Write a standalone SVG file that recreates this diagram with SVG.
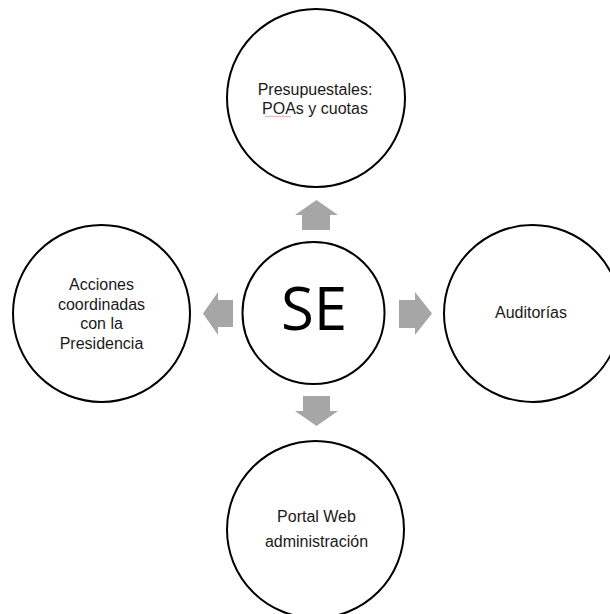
<svg xmlns="http://www.w3.org/2000/svg" width="610" height="614" viewBox="0 0 610 614">
<style>
.c{fill:#fff;stroke:#000;stroke-width:2}
.t{font-family:"Liberation Sans",Arial,sans-serif;font-size:16px;fill:#1a1a1a;text-anchor:middle}
.se{font-family:"Open Sans","Noto Sans","Liberation Sans",sans-serif;font-size:60px;fill:#000;text-anchor:middle}
.a{fill:#a6a6a6}
</style>
<rect width="610" height="614" fill="#fff"/>
<g id="connectors">
<polygon class="a" points="316.5,200 338,215 330,215 330,230 302,230 302,215 295,215"/>
<polygon class="a" points="432,313.5 415,335 415,328 399,328 399,300 415,300 415,292"/>
<polygon class="a" points="316.5,426 295,411 303,411 303,396 330,396 330,411 338,411"/>
<polygon class="a" points="203,313.5 218,292 218,300 233,300 233,327 218,327 218,335"/>
</g>
<g id="node-se">
<circle class="c" cx="313.5" cy="313" r="71" stroke-width="1.8"/>
<text class="se" x="314" y="330">SE</text>
</g>
<g id="node-presupuestales">
<circle class="c" cx="316" cy="98" r="89"/>
<text class="t" x="315" y="95">Presupuestales:</text>
<text class="t" x="315" y="113.5">POAs y cuotas</text>
<polyline points="265,117 267,116 269,117 271,116 273,117 275,116 277,117 279,116 281,117 283,116 285,117 287,116 289,117 291,116" fill="none" stroke="#e88" stroke-width="0.8"/>
</g>
<g id="node-auditorias">
<circle class="c" cx="532.5" cy="313.5" r="88.5"/>
<text class="t" x="531" y="318">Auditorías</text>
</g>
<g id="node-portal">
<circle class="c" cx="315.5" cy="529.5" r="88.5"/>
<text class="t" x="316.5" y="522">Portal Web</text>
<text class="t" x="316.5" y="547">administración</text>
</g>
<g id="node-acciones">
<circle class="c" cx="101.5" cy="313.5" r="88.5"/>
<text class="t" x="101.5" y="290">Acciones</text>
<text class="t" x="101.5" y="309.5">coordinadas</text>
<text class="t" x="101.5" y="329">con la</text>
<text class="t" x="101.5" y="348.5">Presidencia</text>
</g>
</svg>
